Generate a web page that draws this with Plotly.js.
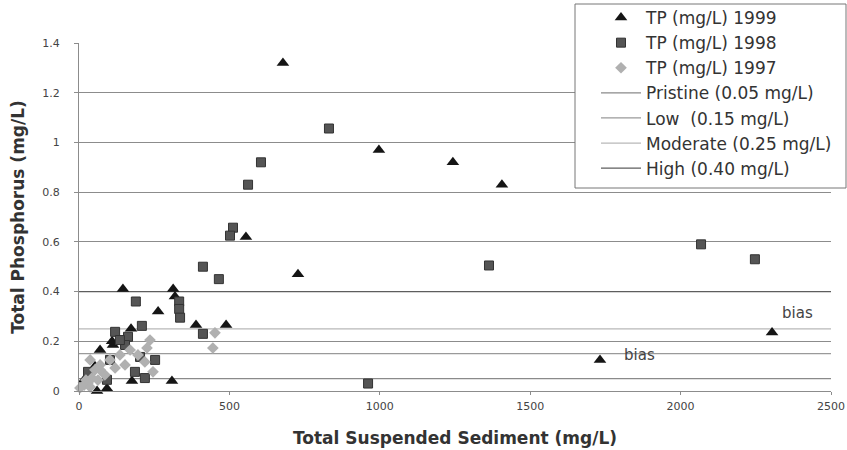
<!DOCTYPE html>
<html>
<head>
<meta charset="utf-8">
<script src="https://cdn.plot.ly/plotly-3.0.1.min.js"></script>
<style>html,body{margin:0;padding:0;background:#fff;}</style>
</head>
<body>
<div id="chart" style="width:847px;height:450px;"></div>
<script>
// ---- data ----
const tp1999_x = [678, 997, 1243, 1406, 555, 728, 1732, 2304, 389, 489, 146, 313, 319, 263, 173, 113, 70, 176, 309, 60, 93, 110, 53, 17];
const tp1999_y = [1.32, 0.97, 0.92, 0.83, 0.62, 0.47, 0.125, 0.235, 0.266, 0.266, 0.41, 0.41, 0.38, 0.32, 0.25, 0.185, 0.165, 0.04, 0.04, 0.0, 0.01, 0.2, 0.1, 0.045];

const tp1998_x = [831, 605, 562, 512, 502, 412, 465, 1363, 2068, 2247, 961, 189, 333, 333, 336, 209, 120, 412, 253, 163, 153, 203, 186, 93, 30, 103, 219, 136];
const tp1998_y = [1.056, 0.92, 0.83, 0.657, 0.625, 0.50, 0.45, 0.505, 0.59, 0.53, 0.03, 0.36, 0.36, 0.33, 0.295, 0.262, 0.238, 0.23, 0.125, 0.218, 0.185, 0.137, 0.077, 0.045, 0.077, 0.125, 0.052, 0.205];

const tp1997_x = [452, 445, 246, 226, 236, 3, 17, 30, 43, 23, 53, 70, 103, 136, 153, 170, 196, 219, 86, 120, 37, 63, 37, 70];
const tp1997_y = [0.234, 0.173, 0.077, 0.173, 0.205, 0.012, 0.024, 0.032, 0.052, 0.044, 0.085, 0.105, 0.125, 0.145, 0.105, 0.165, 0.145, 0.117, 0.065, 0.093, 0.016, 0.044, 0.125, 0.085];

const threshold_names = ["Pristine (0.05 mg/L)", "Low  (0.15 mg/L)", "Moderate (0.25 mg/L)", "High (0.40 mg/L)"];
const threshold_values = [0.05, 0.15, 0.25, 0.40];
const threshold_span = [0, 2500];

const y_tickvals = [0, 0.2, 0.4, 0.6, 0.8, 1.0, 1.2, 1.4];
const y_ticktext = ["0", "0.2", "0.4", "0.6", "0.8", "1", "1.2", "1.4"];
const x_tickvals = [0, 500, 1000, 1500, 2000, 2500];
const x_ticktext = ["0", "500", "1000", "1500", "2000", "2500"];

const bias_x = [1865, 2390];
const bias_y = [0.145, 0.315];
const bias_text = ["bias", "bias"];

// ---- styles ----
const FONT = "DejaVu Sans, Verdana, sans-serif";
const threshold_colors = ["#8a8a8a", "#9a9a9a", "#b8b8b8", "#5e5e5e"];

const traces = [
  {x: tp1999_x, y: tp1999_y, name: "TP (mg/L) 1999", type: "scatter", mode: "markers", cliponaxis: false,
   marker: {symbol: "triangle-up", size: 11, color: "#151515"}},
  {x: tp1998_x, y: tp1998_y, name: "TP (mg/L) 1998", type: "scatter", mode: "markers", cliponaxis: false,
   marker: {symbol: "square", size: 9, color: "#555555", line: {color: "#333333", width: 1}}},
  {x: tp1997_x, y: tp1997_y, name: "TP (mg/L) 1997", type: "scatter", mode: "markers", cliponaxis: false,
   marker: {symbol: "diamond", size: 9, color: "#b0b0b0"}}
];
threshold_names.forEach((n, i) => {
  traces.push({x: threshold_span, y: [threshold_values[i], threshold_values[i]], name: n,
    type: "scatter", mode: "lines", line: {color: threshold_colors[i], width: 1.3}, hoverinfo: "skip"});
});
traces.forEach((t, i) => { t.legendrank = i + 1; });
// draw lines beneath markers
const ordered = traces.slice(3).concat(traces.slice(0, 3));

const pl = 79, pr = 831, pt = 43, pb = 391;
const W = pr - pl, H = pb - pt;
const px = v => (v - pl) / W;
const py = v => (pb - v) / H;

const layout = {
  width: 847, height: 450,
  margin: {l: pl, r: 847 - pr, t: pt, b: 450 - pb, pad: 0, autoexpand: false},
  paper_bgcolor: "#ffffff", plot_bgcolor: "#ffffff",
  font: {family: FONT, color: "#333333"},
  showlegend: true,
  xaxis: {
    range: [0, 2500], tickvals: x_tickvals, ticktext: x_ticktext,
    showgrid: false, zeroline: false, showline: true, linecolor: "#8c8c8c", linewidth: 1,
    ticks: "outside", ticklen: 3, tickcolor: "#8c8c8c", ticklabelstandoff: 2,
    tickfont: {family: FONT, size: 11, color: "#444444"},
    title: {text: "<b>Total Suspended Sediment (mg/L)</b>", font: {family: FONT, size: 17, color: "#333333"}, standoff: 19}
  },
  yaxis: {
    range: [0, 1.4], tickvals: y_tickvals, ticktext: y_ticktext,
    showgrid: true, gridcolor: "#8c8c8c", gridwidth: 1, zeroline: false,
    showline: true, linecolor: "#8c8c8c", linewidth: 1,
    ticks: "outside", ticklen: 4, tickcolor: "#8c8c8c", ticklabelstandoff: 12,
    tickfont: {family: FONT, size: 11, color: "#444444"},
    title: {text: "<b>Total Phosphorus (mg/L)</b>", font: {family: FONT, size: 17, color: "#333333"}, standoff: 13}
  },
  legend: {
    x: px(596), y: py(0), xanchor: "left", yanchor: "top",
    bgcolor: "rgba(0,0,0,0)", borderwidth: 0, itemwidth: 40,
    traceorder: "normal",
    font: {family: FONT, size: 17, color: "#333333"}
  },
  shapes: [{
    type: "rect", xref: "paper", yref: "paper",
    x0: px(575), x1: px(846), y0: py(188), y1: py(4),
    line: {color: "#777777", width: 1}, fillcolor: "#ffffff", layer: "above"
  }],
  annotations: bias_x.map((x, i) => ({
    x: x, y: bias_y[i], xref: "x", yref: "y", text: bias_text[i], showarrow: false,
    font: {family: FONT, size: 15, color: "#444444"}
  }))
};

Plotly.newPlot("chart", ordered, layout, {staticPlot: true, displayModeBar: false});
</script>
</body>
</html>
